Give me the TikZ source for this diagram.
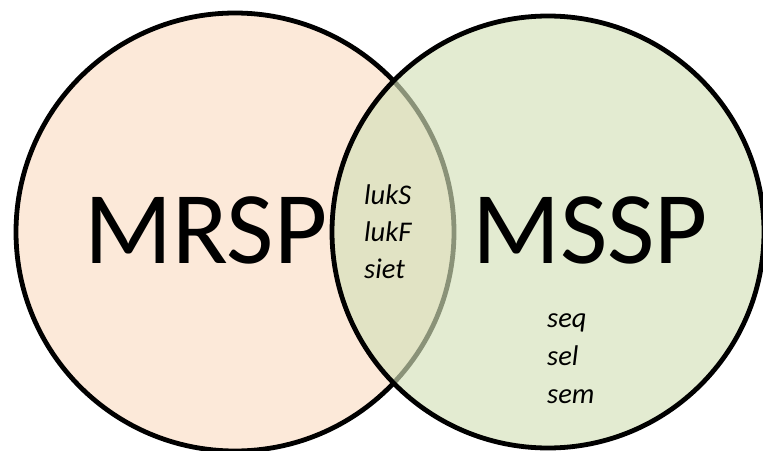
\documentclass[tikz,border=0pt]{standalone}
\usepackage{fontspec}
\setmainfont{Carlito}
\definecolor{peach}{RGB}{252,233,217}
\definecolor{sage}{RGB}{212,225,185}
\begin{document}
\begin{tikzpicture}[x=1pt,y=-1pt,
  setcircle/.style={circle, draw=black, line width=4.8pt, inner sep=0pt, minimum size=#1},
  bigtext/.style={font=\fontsize{103}{103}\selectfont, anchor=base west, inner sep=0pt},
  smalltext/.style={font=\itshape\fontsize{28.5}{28.5}\selectfont, anchor=base west, inner sep=0pt}]
\useasboundingbox (0,0) rectangle (763,450);
\clip (0,0) rectangle (763,450);
\fill[white] (0,0) rectangle (763,450);
\node[setcircle=438pt, fill=peach] (mrspset) at (235,232) {};
\node[setcircle=432pt, fill=sage, fill opacity=0.65, draw opacity=1] (msspset) at (548,232) {};
\node[bigtext] (mrsp) at (84,263) {MRSP};
\node[bigtext] (mssp) at (472,263) {MSSP};
\node[smalltext] (luks) at (364,204) {lukS};
\node[smalltext] (lukf) at (364,241) {lukF};
\node[smalltext] (siet) at (364,278) {siet};
\node[smalltext] (seq) at (547,327) {seq};
\node[smalltext] (sel) at (547,365) {sel};
\node[smalltext] (sem) at (547,403) {sem};
\end{tikzpicture}
\end{document}
